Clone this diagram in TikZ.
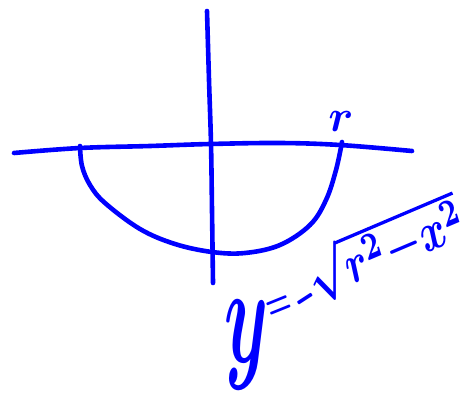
\documentclass[tikz,border=0pt]{standalone}
\definecolor{ink}{RGB}{0,0,255}
\begin{document}
\begin{tikzpicture}[x=1pt,y=-1pt,
  stroke/.style={draw=ink,line width=4.6pt,line cap=round,line join=round},
  hand/.style={text=ink,inner sep=0pt,font=\boldmath}]
\useasboundingbox (0,0) rectangle (468,396);
% axes
\draw[stroke] plot[smooth,tension=0.6] coordinates {(14,153) (80,148) (150,146) (210,144) (280,143) (340,145) (412,151)};
\draw[stroke] plot[smooth,tension=0.6] coordinates {(207,11) (209,80) (211,144) (212,210) (213,283)};
% lower semicircle
\draw[stroke] plot[smooth,tension=0.6] coordinates {(80,146) (82,166) (90,185) (105,203) (140,229) (175,244) (212,252) (245,253) (280,245) (310,225) (326,200) (336,170) (342,142)};
% labels
\node[hand,scale=4.5] (rlab) at (341,121) {$r$};
\node[hand,xscale=7,yscale=14] (ylab) at (246,345) {$y$};
\node[hand,rotate=22,xscale=2.8,yscale=4.5] (eq) at (280,308) {$=$};
\node[hand,rotate=33,xscale=2.4,yscale=6] (minus) at (305,299) {$-$};
\node[hand,rotate=23,xscale=4.1,yscale=5.5] (root) at (385,248) {$\sqrt{r^2{-}x^2}$};
\end{tikzpicture}
\end{document}
